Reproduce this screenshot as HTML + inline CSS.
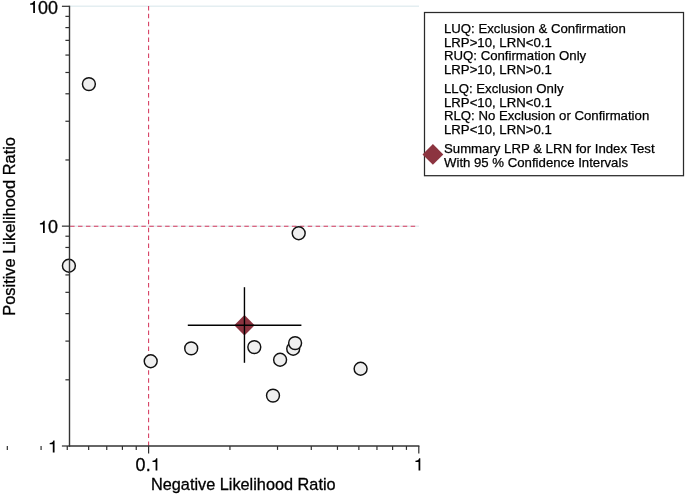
<!DOCTYPE html>
<html><head><meta charset="utf-8"><title>Likelihood Ratio Scattergram</title>
<style>
html,body{margin:0;padding:0;background:#fff;}
body{width:685px;height:495px;overflow:hidden;font-family:"Liberation Sans",sans-serif;}
svg{display:block;will-change:transform;}
text{font-family:"Liberation Sans",sans-serif;fill:#000;}
</style></head><body>
<svg width="685" height="495" viewBox="0 0 685 495">
<rect width="685" height="495" fill="#fff"/>
<line x1="69.5" y1="6.30" x2="419" y2="6.30" stroke="#e4eef1" stroke-width="1.5"/>
<line x1="69.5" y1="226.15" x2="419" y2="226.15" stroke="#e4eef1" stroke-width="1.5"/>
<line x1="148.60" y1="5.90" x2="148.60" y2="446.00" stroke="#d63a5e" stroke-width="1.05" stroke-dasharray="4.5 3.42"/>
<line x1="70.1" y1="226.15" x2="418.6" y2="226.15" stroke="#d63a5e" stroke-width="1.05" stroke-dasharray="4.5 3.42"/>
<g stroke="#2e2e2e" stroke-width="1.2" fill="none">
<line x1="61.9" y1="446.00" x2="69.5" y2="446.00"/>
<line x1="65.4" y1="379.82" x2="69.5" y2="379.82"/>
<line x1="65.4" y1="341.10" x2="69.5" y2="341.10"/>
<line x1="65.4" y1="313.64" x2="69.5" y2="313.64"/>
<line x1="65.4" y1="292.33" x2="69.5" y2="292.33"/>
<line x1="65.4" y1="274.92" x2="69.5" y2="274.92"/>
<line x1="65.4" y1="260.21" x2="69.5" y2="260.21"/>
<line x1="65.4" y1="247.46" x2="69.5" y2="247.46"/>
<line x1="65.4" y1="236.21" x2="69.5" y2="236.21"/>
<line x1="61.9" y1="226.15" x2="69.5" y2="226.15"/>
<line x1="65.4" y1="159.97" x2="69.5" y2="159.97"/>
<line x1="65.4" y1="121.25" x2="69.5" y2="121.25"/>
<line x1="65.4" y1="93.79" x2="69.5" y2="93.79"/>
<line x1="65.4" y1="72.48" x2="69.5" y2="72.48"/>
<line x1="65.4" y1="55.07" x2="69.5" y2="55.07"/>
<line x1="65.4" y1="40.36" x2="69.5" y2="40.36"/>
<line x1="65.4" y1="27.61" x2="69.5" y2="27.61"/>
<line x1="65.4" y1="16.36" x2="69.5" y2="16.36"/>
<line x1="61.9" y1="6.30" x2="69.5" y2="6.30"/>
<line x1="7.32" y1="446.0" x2="7.32" y2="449.9"/>
<line x1="41.08" y1="446.0" x2="41.08" y2="449.9"/>
<line x1="67.26" y1="446.0" x2="67.26" y2="449.9"/>
<line x1="88.66" y1="446.0" x2="88.66" y2="449.9"/>
<line x1="106.75" y1="446.0" x2="106.75" y2="449.9"/>
<line x1="122.41" y1="446.0" x2="122.41" y2="449.9"/>
<line x1="136.24" y1="446.0" x2="136.24" y2="449.9"/>
<line x1="229.94" y1="446.0" x2="229.94" y2="449.9"/>
<line x1="277.52" y1="446.0" x2="277.52" y2="449.9"/>
<line x1="311.28" y1="446.0" x2="311.28" y2="449.9"/>
<line x1="337.46" y1="446.0" x2="337.46" y2="449.9"/>
<line x1="358.86" y1="446.0" x2="358.86" y2="449.9"/>
<line x1="376.95" y1="446.0" x2="376.95" y2="449.9"/>
<line x1="392.61" y1="446.0" x2="392.61" y2="449.9"/>
<line x1="406.44" y1="446.0" x2="406.44" y2="449.9"/>
<line x1="148.60" y1="446.0" x2="148.60" y2="453.4"/>
<line x1="418.80" y1="446.0" x2="418.80" y2="453.4"/>
</g>
<g font-size="17.9" text-anchor="middle" stroke="#000" stroke-width="0.3">
<path d="M34.95,13.10 V0.90 H33.75 C33.50,2.40 32.35,3.30 30.10,3.40 V4.70 H33.20 V13.10 Z" fill="#000" stroke="none"/>
<text x="42.95" y="13.65">0</text><text x="53.1" y="13.65">0</text>
<path d="M44.75,232.90 V220.70 H43.55 C43.30,222.20 42.15,223.10 39.90,223.20 V224.50 H43.00 V232.90 Z" fill="#000" stroke="none"/>
<text x="53.05" y="233.45">0</text>
<path d="M54.55,452.60 V440.40 H53.35 C53.10,441.90 51.95,442.80 49.70,442.90 V444.20 H52.80 V452.60 Z" fill="#000" stroke="none"/>
<text x="140.5" y="471.0">0</text><text x="148.2" y="470.8">.</text>
<path d="M157.35,470.40 V458.20 H156.15 C155.90,459.70 154.75,460.60 152.50,460.70 V462.00 H155.60 V470.40 Z" fill="#000" stroke="none"/>
<path d="M420.30,470.50 V458.30 H419.10 C418.85,459.80 417.70,460.70 415.45,460.80 V462.10 H418.55 V470.50 Z" fill="#000" stroke="none"/>
</g>
<text x="243.3" y="489.7" font-size="16.3" text-anchor="middle" stroke="#000" stroke-width="0.3">Negative Likelihood Ratio</text>
<text transform="translate(15.0,226.4) rotate(-90)" font-size="16.42" text-anchor="middle" stroke="#000" stroke-width="0.3">Positive Likelihood Ratio</text>
<g fill="#efefef" stroke="#111" stroke-width="1.45">
<circle cx="88.9" cy="84.1" r="6.45"/>
<circle cx="68.9" cy="265.7" r="6.45"/>
<circle cx="298.7" cy="233.2" r="6.45"/>
<circle cx="150.7" cy="361.3" r="6.45"/>
<circle cx="191.2" cy="348.4" r="6.45"/>
<circle cx="254.3" cy="347.1" r="6.45"/>
<circle cx="280.1" cy="359.7" r="6.45"/>
<circle cx="293.2" cy="348.7" r="6.45"/>
<circle cx="295.1" cy="343.1" r="6.45"/>
<circle cx="273" cy="395.6" r="6.45"/>
<circle cx="360.6" cy="368.7" r="6.45"/>
</g>
<g stroke="#333" stroke-width="1.4" fill="none">
<line x1="69.5" y1="5.70" x2="69.5" y2="446.70"/>
<line x1="68.8" y1="446.0" x2="419.40" y2="446.0"/>
</g>
<polygon points="234.25,325.2 244.45,315.0 254.64999999999998,325.2 244.45,335.4" fill="#8c3440"/>
<g stroke="#000" stroke-width="1.4"><line x1="244.45" y1="287.2" x2="244.45" y2="362.8"/><line x1="187.8" y1="325.2" x2="301.4" y2="325.2"/></g>
<rect x="424.5" y="12.5" width="259" height="163.2" fill="#fff" stroke="#2a2a2a" stroke-width="1.25"/>
<g font-size="13.2" stroke="#000" stroke-width="0.25">
<text x="444.0" y="32.6">LUQ: Exclusion &amp; Confirmation</text>
<text x="444.0" y="46.6">LRP&gt;10, LRN&lt;0.1</text>
<text x="444.0" y="60.0">RUQ: Confirmation Only</text>
<text x="444.0" y="74.0">LRP&gt;10, LRN&gt;0.1</text>
<text x="444.0" y="92.6">LLQ: Exclusion Only</text>
<text x="444.0" y="106.6">LRP&lt;10, LRN&lt;0.1</text>
<text x="444.0" y="120.4">RLQ: No Exclusion or Confirmation</text>
<text x="444.0" y="134.2">LRP&lt;10, LRN&gt;0.1</text>
<text x="444.0" y="152.7">Summary LRP &amp; LRN for Index Test</text>
<text x="444.0" y="166.9">With 95 % Confidence Intervals</text>
</g>
<polygon points="422.5,154.4 432.9,144.0 443.29999999999995,154.4 432.9,164.8" fill="#8c3440"/>
</svg></body></html>
